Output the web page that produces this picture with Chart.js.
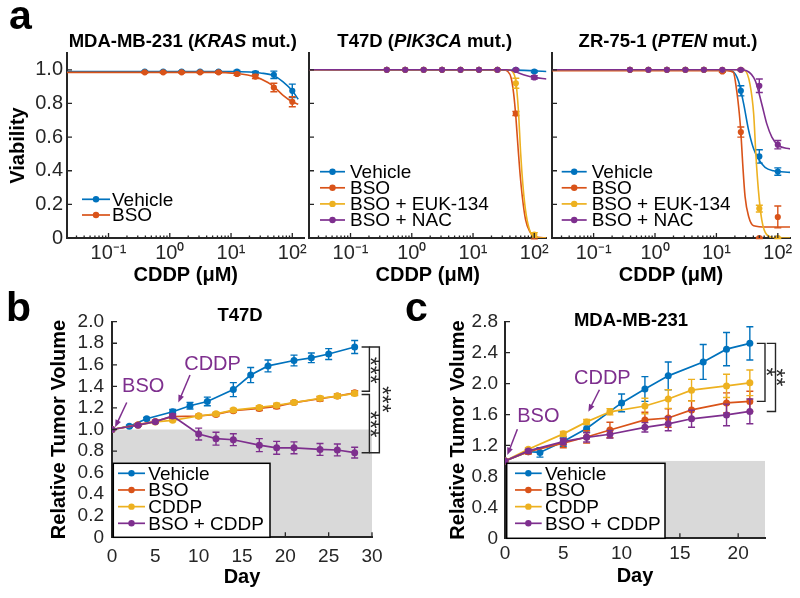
<!DOCTYPE html>
<html>
<head>
<meta charset="utf-8">
<script src="https://cdn.jsdelivr.net/npm/chart.js@4.4.1/dist/chart.umd.min.js"></script>
<style>
  html, body { margin: 0; padding: 0; background: #fff; }
  #fig { position: relative; width: 800px; height: 598px; overflow: hidden; }
  #fig canvas { position: absolute; }
  .panel { position: absolute; font: bold 41px "Liberation Sans", Arial, sans-serif; line-height: 41px; color: #000; }
</style>
</head>
<body>
<div id="fig">
  <canvas id="a1"></canvas>
  <canvas id="a2"></canvas>
  <canvas id="a3"></canvas>
  <canvas id="b"></canvas>
  <canvas id="c"></canvas>
  <div class="panel" style="left:9px;top:-5px">a</div>
  <div class="panel" style="left:6px;top:287px">b</div>
  <div class="panel" style="left:405px;top:287px">c</div>
</div>
<script>
const FONT = '"Liberation Sans", Arial, Helvetica, sans-serif';
const INK = '#262626';
const SHADE = '#d9d9d9';
const BLUE = '#0072BD';
const ORANGE = '#D95319';
const YELLOW = '#EDB120';
const PURPLE = '#7E2F8E';

// ---------- panel a: viability vs CDDP dose ----------
const doses = [0.390625, 0.78125, 1.5625, 3.125, 6.25, 12.5, 25, 50, 100];
const doseTicks = [0.1, 1, 10, 100];
const doseTickLabels = ['10⁻¹', '10⁰', '10¹', '10²'];
const viabilityTicks = [0, 0.2, 0.4, 0.6, 0.8, 1.0];
const viabilityTickLabels = ['0', '0.2', '0.4', '0.6', '0.8', '1.0'];

// MDA-MB-231
const mdaVehicle = [0.99, 0.99, 0.99, 0.99, 0.99, 0.99, 0.98, 0.97, 0.875];
const mdaVehicleErr = [0.004, 0.004, 0.004, 0.004, 0.004, 0.006, 0.01, 0.022, 0.04];
const mdaBso = [0.985, 0.985, 0.985, 0.985, 0.985, 0.975, 0.96, 0.895, 0.81];
const mdaBsoErr = [0.004, 0.004, 0.004, 0.004, 0.005, 0.008, 0.012, 0.025, 0.03];
// fitted curves as (dose, viability)
const mdaVehicleFitX = [0.021, 10, 20, 30, 50, 70, 100, 125];
const mdaVehicleFitY = [0.99, 0.99, 0.987, 0.981, 0.965, 0.93, 0.875, 0.825];
const mdaBsoFitX = [0.021, 5, 12.5, 25, 40, 50, 70, 100, 125];
const mdaBsoFitY = [0.985, 0.985, 0.978, 0.958, 0.925, 0.9, 0.85, 0.81, 0.795];

// T47D
const t47dVehicle = [1, 1, 1, 1, 1, 1, 1, 1, 0.99];
const t47dVehicleErr = [0, 0, 0, 0, 0, 0, 0.003, 0.004, 0.006];
const t47dBso = [1, 1, 1, 1, 1, 1, 1, 0.74, 0.0];
const t47dBsoErr = [0, 0, 0, 0, 0, 0, 0.004, 0.012, 0.005];
const t47dEuk = [1, 1, 1, 1, 1, 1, 1, 0.92, 0.02];
const t47dEukErr = [0, 0, 0, 0, 0, 0, 0.004, 0.03, 0.012];
const t47dNac = [1, 1, 1, 1, 1, 1, 1, 1, 0.955];
const t47dNacErr = [0, 0, 0, 0, 0, 0, 0, 0.004, 0.01];
const t47dVehicleFitX = [0.021, 50, 158];
const t47dVehicleFitY = [1, 0.998, 0.99];
const t47dBsoFitX = [0.021, 30, 37, 42, 46, 50, 54, 58, 64, 72, 84, 100, 158];
const t47dBsoFitY = [1, 1, 0.99, 0.95, 0.86, 0.72, 0.55, 0.4, 0.24, 0.11, 0.04, 0.01, 0];
const t47dEukFitX = [0.021, 38, 44, 50, 55, 60, 65, 70, 77, 90, 110, 158];
const t47dEukFitY = [1, 1, 0.99, 0.93, 0.76, 0.5, 0.32, 0.2, 0.1, 0.02, 0, 0];
const t47dNacFitX = [0.021, 35, 45, 57, 76, 100, 158];
const t47dNacFitY = [1, 1, 0.995, 0.98, 0.965, 0.955, 0.945];

// ZR-75-1
const zrVehicle = [1, 1, 1, 1, 1, 0.995, 0.875, 0.485, 0.395];
const zrVehicleErr = [0, 0, 0, 0, 0, 0.005, 0.03, 0.04, 0.022];
const zrBso = [1, 1, 1, 1, 1, 0.99, 0.63, 0.0, 0.125];
const zrBsoErr = [0, 0, 0, 0, 0, 0.005, 0.03, 0.004, 0.065];
const zrEuk = [1, 1, 1, 1, 1, 1, 1, 0.175, 0.0];
const zrEukErr = [0, 0, 0, 0, 0, 0, 0.004, 0.02, 0.004];
const zrNac = [1, 1, 1, 1, 1, 1, 1, 0.905, 0.555];
const zrNacErr = [0, 0, 0, 0, 0, 0, 0.005, 0.04, 0.025];
const zrVehicleFitX = [0.021, 15, 17.8, 22.8, 27.7, 33.5, 40.4, 48.3, 62, 85, 158];
const zrVehicleFitY = [1, 1, 0.995, 0.935, 0.8, 0.64, 0.53, 0.47, 0.42, 0.4, 0.39];
const zrBsoFitX = [0.021, 15, 18.9, 21.4, 23.6, 25, 26.8, 29.3, 33.5, 40.4, 66, 158];
const zrBsoFitY = [0.995, 0.995, 0.985, 0.876, 0.74, 0.63, 0.443, 0.246, 0.128, 0.073, 0.065, 0.065];
const zrEukFitX = [0.021, 25, 29.3, 35.2, 40.4, 44.2, 48.3, 54.8, 66, 94, 158];
const zrEukFitY = [1, 1, 0.995, 0.915, 0.74, 0.48, 0.285, 0.108, 0.02, 0, 0];
const zrNacFitX = [0.021, 25, 31, 43, 54.8, 66, 80, 102, 158];
const zrNacFitY = [1, 1, 0.995, 0.935, 0.797, 0.68, 0.6, 0.55, 0.53];

// ---------- panel b: T47D tumour volume ----------
const dayTicksB = [0, 5, 10, 15, 20, 25, 30];
const volTicksB = [0, 0.2, 0.4, 0.6, 0.8, 1.0, 1.2, 1.4, 1.6, 1.8, 2.0];
const volTickLabelsB = ['0', '0.2', '0.4', '0.6', '0.8', '1.0', '1.2', '1.4', '1.6', '1.8', '2.0'];
const t47dVehicleDays = [0, 2, 4, 7, 9, 11, 14, 16, 18, 21, 23, 25, 28];
const t47dTreatDays = [0, 3, 5, 7, 10, 12, 14, 17, 19, 21, 24, 26, 28];
const bVehicle = [1.0, 1.03, 1.1, 1.165, 1.22, 1.26, 1.37, 1.505, 1.59, 1.64, 1.665, 1.7, 1.765];
const bVehicleErr = [0, 0.01, 0.012, 0.02, 0.03, 0.04, 0.065, 0.07, 0.055, 0.05, 0.045, 0.05, 0.06];
const bBso = [1.0, 1.045, 1.075, 1.12, 1.125, 1.14, 1.175, 1.195, 1.215, 1.25, 1.285, 1.31, 1.34];
const bBsoErr = [0, 0.01, 0.01, 0.015, 0.015, 0.015, 0.015, 0.02, 0.02, 0.015, 0.02, 0.02, 0.02];
const bCddp = [1.0, 1.04, 1.07, 1.085, 1.125, 1.145, 1.18, 1.205, 1.225, 1.25, 1.29, 1.31, 1.335];
const bCddpErr = [0, 0.01, 0.01, 0.012, 0.015, 0.015, 0.015, 0.015, 0.02, 0.015, 0.02, 0.02, 0.02];
const bCombo = [1.0, 1.04, 1.073, 1.125, 0.958, 0.915, 0.905, 0.855, 0.83, 0.83, 0.815, 0.81, 0.785];
const bComboErr = [0, 0.01, 0.012, 0.02, 0.055, 0.06, 0.055, 0.06, 0.06, 0.055, 0.055, 0.055, 0.05];

// ---------- panel c: MDA-MB-231 tumour volume ----------
const dayTicksC = [0, 5, 10, 15, 20];
const volTicksC = [0, 0.4, 0.8, 1.2, 1.6, 2.0, 2.4, 2.8];
const volTickLabelsC = ['0', '0.4', '0.8', '1.2', '1.6', '2.0', '2.4', '2.8'];
const mdaVehicleDays = [0, 2, 3, 5, 7, 10, 12, 14, 17, 19, 21];
const mdaTreatDays = [0, 2, 5, 7, 9, 12, 14, 16, 19, 21];
const cVehicle = [1.0, 1.12, 1.11, 1.25, 1.42, 1.75, 1.93, 2.1, 2.28, 2.445, 2.52];
const cVehicleErr = [0, 0.02, 0.06, 0.06, 0.05, 0.115, 0.16, 0.18, 0.225, 0.215, 0.215];
const cBso = [1.0, 1.12, 1.23, 1.31, 1.4, 1.53, 1.555, 1.66, 1.75, 1.77];
const cBsoErr = [0, 0.03, 0.06, 0.08, 0.1, 0.1, 0.12, 0.12, 0.13, 0.13];
const cCddp = [1.0, 1.15, 1.35, 1.505, 1.635, 1.71, 1.8, 1.915, 1.97, 2.01];
const cCddpErr = [0, 0.02, 0.03, 0.03, 0.04, 0.1, 0.12, 0.14, 0.15, 0.165];
const cCombo = [1.0, 1.13, 1.25, 1.305, 1.345, 1.435, 1.48, 1.545, 1.595, 1.64];
const cComboErr = [0, 0.02, 0.04, 0.06, 0.05, 0.06, 0.09, 0.11, 0.14, 0.16];

// ---------- helpers ----------
function pts(xs, ys) {
  return xs.map((x, i) => ({ x, y: ys[i] }));
}

function fitSet(xs, ys, color, order) {
  return {
    data: pts(xs, ys), borderColor: color, borderWidth: 1.6, pointRadius: 0,
    showLine: true, cubicInterpolationMode: 'monotone', order,
  };
}

function markSet(label, xs, ys, errs, color, order, lined, radius) {
  return {
    label, data: pts(xs, ys), errors: errs, legend: true,
    borderColor: color, backgroundColor: color, pointBackgroundColor: color,
    pointBorderWidth: 0, pointRadius: radius, showLine: lined, borderWidth: 1.7, order,
  };
}

function axis(o) {
  return {
    type: o.type || 'linear', min: o.min, max: o.max,
    grid: { display: false, drawTicks: false },
    border: { display: true, color: INK, width: 2 },
    ticks: {
      display: !!o.labels, color: INK, font: { family: FONT, size: o.fontSize || 19 }, padding: o.pad,
      autoSkip: false, maxRotation: 0, callback: (v, i) => (o.labels ? o.labels[i] : ''),
    },
    afterBuildTicks: (s) => { s.ticks = o.values.map((value) => ({ value })); },
    afterFit: (s) => { if (s.isHorizontal()) s.height = o.size; else s.width = o.size; },
    title: o.title
      ? { display: true, text: o.title, color: '#000', font: { family: FONT, size: 20, weight: 'bold' }, padding: o.titlePad }
      : { display: false },
  };
}

function drawRich(ctx, segs, cx, baseline) {
  const fontOf = (s) => `${s.italic ? 'italic ' : ''}bold 18.5px ${FONT}`;
  let w = 0;
  segs.forEach((s) => { ctx.font = fontOf(s); w += ctx.measureText(s.text).width; });
  let px = cx - w / 2;
  ctx.fillStyle = '#000';
  ctx.textAlign = 'left';
  ctx.textBaseline = 'alphabetic';
  segs.forEach((s) => {
    ctx.font = fontOf(s);
    ctx.fillText(s.text, px, baseline);
    px += ctx.measureText(s.text).width;
  });
}

function drawLegend(chart, L) {
  const { ctx, chartArea: a } = chart;
  const items = chart.data.datasets.filter((d) => d.legend);
  if (L.box) {
    ctx.fillStyle = '#fff';
    ctx.fillRect(a.left + L.box[0], a.bottom + L.box[1], L.box[2] - L.box[0], L.box[3] - L.box[1]);
    ctx.strokeStyle = '#000';
    ctx.lineWidth = 1.5;
    ctx.strokeRect(a.left + L.box[0], a.bottom + L.box[1], L.box[2] - L.box[0], L.box[3] - L.box[1]);
  }
  ctx.font = `19px ${FONT}`;
  ctx.textAlign = 'left';
  ctx.textBaseline = 'middle';
  items.forEach((d, i) => {
    const yy = a.bottom + L.row0 + i * L.step;
    const x1 = a.left + L.line[0], x2 = a.left + L.line[1];
    ctx.strokeStyle = d.borderColor;
    ctx.lineWidth = 1.7;
    ctx.beginPath(); ctx.moveTo(x1, yy); ctx.lineTo(x2, yy); ctx.stroke();
    ctx.fillStyle = d.borderColor;
    ctx.beginPath(); ctx.arc((x1 + x2) / 2, yy, 3.2, 0, Math.PI * 2); ctx.fill();
    ctx.fillStyle = '#000';
    ctx.fillText(d.label, a.left + L.text, yy + 1);
  });
}

function drawArrow(ctx, x, y, ar) {
  const x1 = x.getPixelForValue(ar.from[0]), y1 = y.getPixelForValue(ar.from[1]);
  const x2 = x.getPixelForValue(ar.to[0]), y2 = y.getPixelForValue(ar.to[1]);
  const ang = Math.atan2(y2 - y1, x2 - x1);
  ctx.strokeStyle = PURPLE;
  ctx.fillStyle = PURPLE;
  ctx.lineWidth = 1.5;
  ctx.beginPath();
  ctx.moveTo(x1, y1);
  ctx.lineTo(x2 - 5 * Math.cos(ang), y2 - 5 * Math.sin(ang));
  ctx.stroke();
  ctx.beginPath();
  ctx.moveTo(x2, y2);
  ctx.lineTo(x2 - 8 * Math.cos(ang - 0.38), y2 - 8 * Math.sin(ang - 0.38));
  ctx.lineTo(x2 - 8 * Math.cos(ang + 0.38), y2 - 8 * Math.sin(ang + 0.38));
  ctx.closePath();
  ctx.fill();
  ctx.font = `20px ${FONT}`;
  ctx.textAlign = 'center';
  ctx.textBaseline = 'middle';
  ctx.fillText(ar.text, x.getPixelForValue(ar.label[0]), y.getPixelForValue(ar.label[1]));
}

const decorPlugin = {
  id: 'decor',
  beforeDraw(chart, args, o) {
    if (o.shadeBelow == null) return;
    const { ctx, chartArea: a } = chart;
    const top = chart.scales.y.getPixelForValue(o.shadeBelow);
    ctx.save();
    ctx.fillStyle = SHADE;
    ctx.fillRect(a.left, top, a.right - a.left, a.bottom - top);
    ctx.restore();
  },
  afterDatasetDraw(chart, args) {
    const ds = chart.data.datasets[args.index];
    if (!ds.errors) return;
    const ctx = chart.ctx, y = chart.scales.y;
    ctx.save();
    ctx.strokeStyle = ds.borderColor;
    ctx.lineWidth = 1.4;
    args.meta.data.forEach((pt, i) => {
      const e = ds.errors[i];
      if (!e) return;
      const v = ds.data[i].y;
      const y1 = y.getPixelForValue(v + e), y2 = y.getPixelForValue(v - e);
      ctx.beginPath();
      ctx.moveTo(pt.x, y1); ctx.lineTo(pt.x, y2);
      ctx.moveTo(pt.x - 3.5, y1); ctx.lineTo(pt.x + 3.5, y1);
      ctx.moveTo(pt.x - 3.5, y2); ctx.lineTo(pt.x + 3.5, y2);
      ctx.stroke();
    });
    ctx.restore();
  },
  afterDraw(chart, args, o) {
    const { ctx, chartArea: a, scales: { x, y } } = chart;
    ctx.save();
    // inward tick marks, MATLAB style
    ctx.strokeStyle = INK;
    ctx.lineWidth = 1.3;
    ctx.beginPath();
    x.ticks.forEach((t) => {
      const px = x.getPixelForValue(t.value);
      ctx.moveTo(px, a.bottom); ctx.lineTo(px, a.bottom - 5);
    });
    if (o.logMinor) {
      for (let e = -2; e <= 2; e++) {
        for (let m = 2; m <= 9; m++) {
          const v = m * Math.pow(10, e);
          if (v < x.min || v > x.max) continue;
          const px = x.getPixelForValue(v);
          ctx.moveTo(px, a.bottom); ctx.lineTo(px, a.bottom - 2.5);
        }
      }
    }
    y.ticks.forEach((t) => {
      const py = y.getPixelForValue(t.value);
      ctx.moveTo(a.left, py); ctx.lineTo(a.left + 5, py);
    });
    ctx.stroke();

    if (o.title) drawRich(ctx, o.title, (a.left + a.right) / 2 + o.titleDx, a.top + o.titleDy);
    if (o.legend) drawLegend(chart, o.legend);
    (o.arrows || []).forEach((ar) => drawArrow(ctx, x, y, ar));

    // significance brackets
    ctx.strokeStyle = INK;
    ctx.lineWidth = 1.4;
    (o.brackets || []).forEach((br) => {
      ctx.beginPath();
      br.forEach(([bx, by], i) => {
        const px = x.getPixelForValue(bx), py = y.getPixelForValue(by);
        if (i === 0) ctx.moveTo(px, py); else ctx.lineTo(px, py);
      });
      ctx.stroke();
    });
    ctx.fillStyle = INK;
    ctx.font = `23px ${FONT}`;
    ctx.textAlign = 'center';
    ctx.textBaseline = 'middle';
    (o.stars || []).forEach((s) => {
      ctx.save();
      ctx.translate(x.getPixelForValue(s.at[0]), y.getPixelForValue(s.at[1]));
      ctx.rotate(Math.PI / 2);
      ctx.fillText(s.text, 0, 5);
      ctx.restore();
    });
    ctx.restore();
  },
};

function makeChart(id, box, datasets, cfg) {
  const cv = document.getElementById(id);
  cv.width = box.w;
  cv.height = box.h;
  cv.style.left = box.left + 'px';
  cv.style.top = box.top + 'px';
  return new Chart(cv, {
    type: 'scatter',
    data: { datasets },
    options: {
      responsive: false,
      animation: false,
      events: [],
      layout: { padding: cfg.padding },
      plugins: { legend: { display: false }, tooltip: { enabled: false }, decor: cfg.decor },
      scales: { x: cfg.x, y: cfg.y },
    },
    plugins: [decorPlugin],
  });
}

// ---------- panel a ----------
function doseChart(id, box, series, yAxis, padding, title, legend) {
  const n = series.length;
  const datasets = [];
  series.forEach((s, i) => {
    datasets.push(fitSet(s.fitX, s.fitY, s.color, 2 * (n - i)));
    datasets.push(markSet(s.label, doses, s.y, s.err, s.color, 2 * (n - i) - 1, false, 3.1));
  });
  return makeChart(id, box, datasets, {
    padding,
    x: axis({ type: 'logarithmic', min: 0.021, max: 158, values: doseTicks, labels: doseTickLabels,
      pad: 3, size: 54, fontSize: 20, title: 'CDDP (μM)', titlePad: { top: 0, bottom: 5 } }),
    y: yAxis,
    decor: { logMinor: true, title, titleDx: -3, titleDy: -6.5, legend },
  });
}

doseChart('a1', { left: 0, top: 0, w: 310, h: 292 }, [
  { label: 'Vehicle', y: mdaVehicle, err: mdaVehicleErr, fitX: mdaVehicleFitX, fitY: mdaVehicleFitY, color: BLUE },
  { label: 'BSO', y: mdaBso, err: mdaBsoErr, fitX: mdaBsoFitX, fitY: mdaBsoFitY, color: ORANGE },
], axis({ min: 0, max: 1.1, values: viabilityTicks, labels: viabilityTickLabels, pad: 4, size: 67, fontSize: 20,
  title: 'Viability', titlePad: { top: 6, bottom: 0 } }),
{ left: 0, top: 53, right: 5, bottom: 0 },
[{ text: 'MDA-MB-231 (' }, { text: 'KRAS', italic: true }, { text: ' mut.)' }],
{ line: [15, 43], text: 45, row0: -38.7, step: 15.7 });

doseChart('a2', { left: 300, top: 0, w: 252, h: 292 }, [
  { label: 'Vehicle', y: t47dVehicle, err: t47dVehicleErr, fitX: t47dVehicleFitX, fitY: t47dVehicleFitY, color: BLUE },
  { label: 'BSO', y: t47dBso, err: t47dBsoErr, fitX: t47dBsoFitX, fitY: t47dBsoFitY, color: ORANGE },
  { label: 'BSO + EUK-134', y: t47dEuk, err: t47dEukErr, fitX: t47dEukFitX, fitY: t47dEukFitY, color: YELLOW },
  { label: 'BSO + NAC', y: t47dNac, err: t47dNacErr, fitX: t47dNacFitX, fitY: t47dNacFitY, color: PURPLE },
], axis({ min: 0, max: 1.1, values: viabilityTicks, labels: null, pad: 0, size: 9 }),
{ left: 0, top: 53, right: 5, bottom: 0 },
[{ text: 'T47D (' }, { text: 'PIK3CA', italic: true }, { text: ' mut.)' }],
{ line: [11, 36], text: 41, row0: -66.3, step: 16.1 });

doseChart('a3', { left: 543, top: 0, w: 257, h: 292 }, [
  { label: 'Vehicle', y: zrVehicle, err: zrVehicleErr, fitX: zrVehicleFitX, fitY: zrVehicleFitY, color: BLUE },
  { label: 'BSO', y: zrBso, err: zrBsoErr, fitX: zrBsoFitX, fitY: zrBsoFitY, color: ORANGE },
  { label: 'BSO + EUK-134', y: zrEuk, err: zrEukErr, fitX: zrEukFitX, fitY: zrEukFitY, color: YELLOW },
  { label: 'BSO + NAC', y: zrNac, err: zrNacErr, fitX: zrNacFitX, fitY: zrNacFitY, color: PURPLE },
], axis({ min: 0, max: 1.1, values: viabilityTicks, labels: null, pad: 0, size: 9 }),
{ left: 0, top: 53, right: 10, bottom: 0 },
[{ text: 'ZR-75-1 (' }, { text: 'PTEN', italic: true }, { text: ' mut.)' }],
{ line: [9.7, 34.7], text: 39.7, row0: -66.3, step: 16.1 });

// ---------- panel b ----------
makeChart('b', { left: 0, top: 290, w: 400, h: 308 }, [
  markSet('Vehicle', t47dVehicleDays, bVehicle, bVehicleErr, BLUE, 4, true, 3.5),
  markSet('BSO', t47dTreatDays, bBso, bBsoErr, ORANGE, 3, true, 3.5),
  markSet('CDDP', t47dTreatDays, bCddp, bCddpErr, YELLOW, 2, true, 3.5),
  markSet('BSO + CDDP', t47dTreatDays, bCombo, bComboErr, PURPLE, 1, true, 3.5),
], {
  padding: { left: 0, top: 31.7, right: 28, bottom: 0 },
  x: axis({ min: 0, max: 30, values: dayTicksB, labels: dayTicksB.map(String), pad: 8, size: 60.7,
    title: 'Day', titlePad: { top: 0, bottom: 9 } }),
  y: axis({ min: 0, max: 2.0, values: volTicksB, labels: volTickLabelsB, pad: 8, size: 112,
    title: 'Relative Tumor Volume', titlePad: { top: 47, bottom: 0 } }),
  decor: {
    shadeBelow: 1.0,
    title: [{ text: 'T47D' }], titleDx: -2, titleDy: -1,
    legend: { box: [1.3, -74, 158, 0], line: [6, 33], text: 36.3, row0: -64, step: 16.67 },
    arrows: [
      { text: 'BSO', label: [3.6, 1.4], from: [1.7, 1.25], to: [0.35, 1.02] },
      { text: 'CDDP', label: [11.6, 1.6], from: [9.0, 1.506], to: [7.65, 1.25] },
    ],
    brackets: [
      [[28.8, 1.765], [29.7, 1.765], [29.7, 1.355], [28.8, 1.355]],
      [[28.8, 1.325], [29.7, 1.325], [29.7, 0.785], [28.8, 0.785]],
      [[29.7, 1.765], [30.85, 1.765], [30.85, 0.785], [29.7, 0.785]],
    ],
    stars: [
      { text: '***', at: [30.15, 1.55] },
      { text: '***', at: [30.15, 1.05] },
      { text: '***', at: [31.5, 1.28] },
    ],
  },
});

// ---------- panel c ----------
makeChart('c', { left: 400, top: 290, w: 400, h: 308 }, [
  markSet('Vehicle', mdaVehicleDays, cVehicle, cVehicleErr, BLUE, 4, true, 3.5),
  markSet('BSO', mdaTreatDays, cBso, cBsoErr, ORANGE, 3, true, 3.5),
  markSet('CDDP', mdaTreatDays, cCddp, cCddpErr, YELLOW, 2, true, 3.5),
  markSet('BSO + CDDP', mdaTreatDays, cCombo, cComboErr, PURPLE, 1, true, 3.5),
], {
  padding: { left: 0, top: 31.7, right: 35, bottom: 0 },
  x: axis({ min: 0, max: 22.3, values: dayTicksC, labels: dayTicksC.map(String), pad: 4, size: 59.7,
    title: 'Day', titlePad: { top: 0, bottom: 9.3 } }),
  y: axis({ min: 0, max: 2.8, values: volTicksC, labels: volTickLabelsC, pad: 7, size: 105,
    title: 'Relative Tumor Volume', titlePad: { top: 46.3, bottom: 0 } }),
  decor: {
    shadeBelow: 1.0,
    title: [{ text: 'MDA-MB-231' }], titleDx: -4, titleDy: 4,
    legend: { box: [1.7, -75, 160, 0], line: [10, 36.7], text: 40, row0: -65, step: 16.67 },
    arrows: [
      { text: 'BSO', label: [2.86, 1.57], from: [1.06, 1.41], to: [0.2, 1.076] },
      { text: 'CDDP', label: [8.35, 2.07], from: [8.1, 1.92], to: [7.15, 1.636] },
    ],
    brackets: [
      [[21.6, 2.52], [22.3, 2.52], [22.3, 1.77], [21.6, 1.77]],
      [[22.45, 2.52], [23.2, 2.52], [23.2, 1.64], [22.45, 1.64]],
    ],
    stars: [
      { text: '*', at: [22.7, 2.15] },
      { text: '**', at: [23.55, 2.08] },
    ],
  },
});
</script>
</body>
</html>
